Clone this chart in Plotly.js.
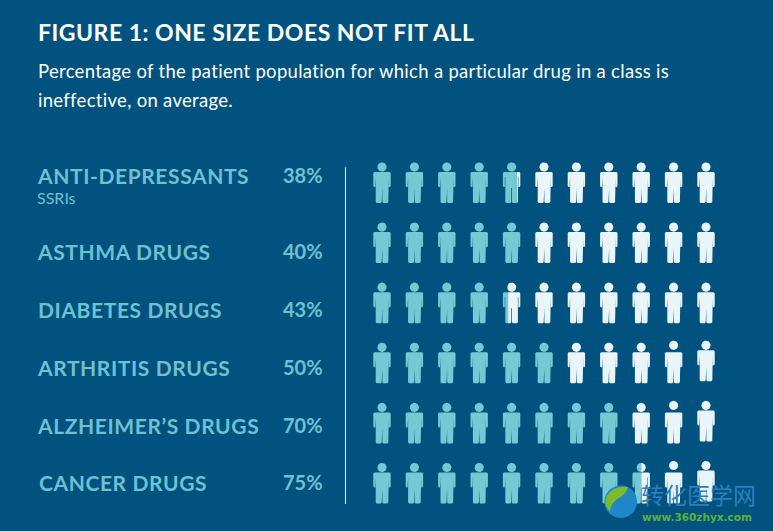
<!DOCTYPE html>
<html><head><meta charset="utf-8">
<script src="https://cdn.plot.ly/plotly-3.0.1.min.js"></script>
<style>html,body{margin:0;padding:0;background:#01527f;overflow:hidden}
g.annotation[data-index="0"] text{letter-spacing:.5px}
g.annotation[data-index="1"] text,g.annotation[data-index="2"] text{letter-spacing:.3px}
g.annotation[data-index="4"] text,g.annotation[data-index="6"] text,g.annotation[data-index="8"] text,g.annotation[data-index="10"] text,g.annotation[data-index="12"] text,g.annotation[data-index="14"] text{letter-spacing:.6px}
</style>
</head><body><div id="chart" style="width:773px;height:531px"></div>
<script>
const categories = ["ANTI-DEPRESSANTS","ASTHMA DRUGS","DIABETES DRUGS","ARTHRITIS DRUGS","ALZHEIMER’S DRUGS","CANCER DRUGS"];
const percents = [38,40,43,50,70,75];
const filledFigures = [4.8,5,4.3,6,8,8.5];
const figureCount = 11;
const W=773,H=531,BG="#01527f",TEAL="#74c9d3",LABEL="#6fc1d1",WHITE="#e9f5f8";
const colPx=32.4,rowPx=60.1,x0=382,y0=167;
const labelY=[175,251,309,367,425,482];
const labelX=[35,35,36,35,35,37];
const px=(x)=>x/W, py=(y)=>1-y/H;

const body=[[-8.7,6],[-7.7,5],[7.7,5],[8.7,6],[8.7,19],[7.9,20],[6.8,20],[6.8,10],[6.3,10],[6.3,35],[5.3,36],[1.2,36],[0.35,35],[0.35,21],[-0.35,21],[-0.35,35],[-1.2,36],[-5.3,36],[-6.3,35],[-6.3,10],[-6.8,10],[-6.8,20],[-7.9,20],[-8.7,19]];
const headPts=[];
for(let i=0;i<24;i++){const a=i/24*2*Math.PI;headPts.push([4.6*Math.cos(a),4.6*Math.sin(a)]);}

function clip(poly,cut,keepLeft){
  const out=[],inside=p=>keepLeft?p[0]<=cut:p[0]>=cut;
  poly.forEach((p,i)=>{
    const q=poly[(i+1)%poly.length],a=inside(p),b=inside(q);
    if(a)out.push(p);
    if(a!==b){const t=(cut-p[0])/(q[0]-p[0]);out.push([cut,p[1]+t*(q[1]-p[1])]);}
  });
  return out;
}
const teal={x:[],y:[]},white={x:[],y:[]};
function add(t,poly,col,row){
  if(!poly.length)return;
  poly.forEach(p=>{t.x.push(col+p[0]/colPx);t.y.push(row+p[1]/rowPx);});
  t.x.push(col+poly[0][0]/colPx);t.y.push(row+poly[0][1]/rowPx);
  t.x.push(null);t.y.push(null);
}
filledFigures.forEach((filled,row)=>{
  for(let col=0;col<figureCount;col++){
    const late=row>=3;
    const headLift=late&&col>=9?-2:0, bodyLift=late&&col===10?-2:0;
    const hd=headPts.map(p=>[p[0],p[1]+headLift]), bd=body.map(p=>[p[0],p[1]+bodyLift]);
    const f=Math.max(0,Math.min(1,filled-col));
    const cut=-8.7+17.4*f;
    [hd,bd].forEach(poly=>{
      if(f>=1)add(teal,poly,col,row);
      else if(f<=0)add(white,poly,col,row);
      else{add(teal,clip(poly,cut,true),col,row);add(white,clip(poly,cut,false),col,row);}
    });
  }
});
const mk=(t,c,n)=>({type:"scatter",mode:"lines",x:t.x,y:t.y,fill:"toself",fillcolor:c,line:{width:0,color:c},hoverinfo:"skip",name:n,showlegend:false,connectgaps:false});
const font="Lato, sans-serif";
const ann=(text,x,y,size,color,anchor,weight)=>({text,x:px(x),y:py(y),xref:"paper",yref:"paper",xanchor:anchor||"left",yanchor:"middle",showarrow:false,align:anchor||"left",font:{family:font,size,color,weight:weight||400}});
const annotations=[
  ann("FIGURE 1: ONE SIZE DOES NOT FIT ALL",36,32,23,"#ffffff","left",700),
  ann("Percentage of the patient population for which a particular drug in a class is",36,71,18.5,"#ffffff"),
  ann("ineffective, on average.",36,100,18.5,"#ffffff"),
  ann("SSRIs",35,197,16,LABEL),
];
categories.forEach((c,i)=>{
  annotations.push(ann(c,labelX[i],labelY[i],21,LABEL,"left",700));
  annotations.push(ann(percents[i]+"%",325,labelY[i],20,LABEL,"right",700));
});
annotations.push({text:"转化医学网",x:px(639),y:py(494),xref:"paper",yref:"paper",xanchor:"left",yanchor:"middle",showarrow:false,font:{family:"Noto Sans CJK SC",size:23,color:"#2a7fbe"}});
annotations.push({text:"www.360zhyx.com",x:px(640),y:py(517),xref:"paper",yref:"paper",xanchor:"left",yanchor:"middle",showarrow:false,font:{family:"DejaVu Sans",size:10.5,color:"#5bb338",weight:700}});
const P=(x,y)=>px(x)+" "+py(y);
const leaf="M "+P(606,506)+" C "+P(603,494)+" "+P(614,485)+" "+P(628,487)+" C "+P(626,496)+" "+P(618,497)+" "+P(613,503)+" C "+P(611,506)+" "+P(610,509)+" "+P(610,512)+" Z";
const shapes=[
  {type:"line",xref:"paper",yref:"paper",x0:px(345.5),x1:px(345.5),y0:py(167),y1:py(504),line:{color:"#ffffff",width:1}},
  {type:"circle",xref:"paper",yref:"paper",x0:px(604.5),x1:px(637),y0:py(485.5),y1:py(518),fillcolor:"#1f86c9",line:{width:0},layer:"above"},
  {type:"path",xref:"paper",yref:"paper",path:leaf,fillcolor:"#7dbb2e",line:{width:0},layer:"above"}
];
Plotly.newPlot("chart",[mk(teal,TEAL,"Ineffective"),mk(white,WHITE,"Effective")],{
  width:W,height:H,margin:{l:0,r:0,t:0,b:0},paper_bgcolor:BG,plot_bgcolor:BG,showlegend:false,
  xaxis:{range:[-x0/colPx,(W-x0)/colPx],visible:false,fixedrange:true},
  yaxis:{range:[(H-y0)/rowPx,-y0/rowPx],visible:false,fixedrange:true},
  annotations,shapes
},{displayModeBar:false,staticPlot:true});
</script></body></html>
